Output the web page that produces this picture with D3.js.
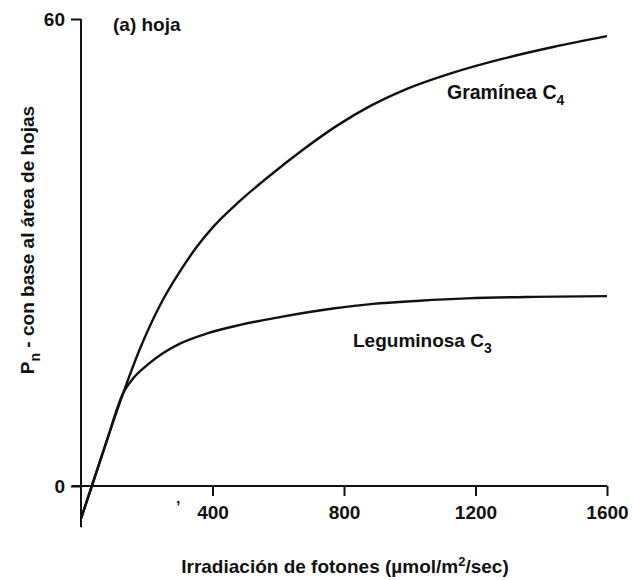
<!DOCTYPE html>
<html>
<head>
<meta charset="utf-8">
<script src="https://cdn.jsdelivr.net/npm/d3@7"></script>
<style>
  body { margin: 0; background: #fff; }
  text { font-family: "Liberation Sans", Arial, sans-serif; font-weight: bold; fill: #111; }
</style>
</head>
<body>
<div id="chart"></div>
<script>
// irradiance (µmol/m2/sec) and Pn
const c4X = [0, 33, 79, 128, 179, 240, 300, 350, 400, 480, 575, 675, 779, 879, 979, 1132, 1284, 1436, 1600];
const c4Y = [-4.2, 0, 5.9, 11.9, 17.6, 23.2, 27.5, 30.6, 33.2, 36.5, 39.9, 43.2, 46.3, 48.8, 50.8, 53.1, 54.9, 56.4, 57.8];
const c3X = [0, 33, 79, 128, 160, 200, 250, 301, 383, 484, 605, 767, 888, 1030, 1174, 1375, 1600];
const c3Y = [-4.2, 0, 5.9, 11.9, 13.9, 15.5, 17.1, 18.3, 19.6, 20.7, 21.7, 22.8, 23.4, 23.8, 24.1, 24.3, 24.4];
const xTicks = [400, 800, 1200, 1600];
const yTicks = [0, 60];

const width = 632, height = 580;

const svg = d3.select('#chart').append('svg')
    .attr('width', width)
    .attr('height', height);

const x = d3.scaleLinear().domain([0, 1600]).range([81, 607]);
const y = d3.scaleLinear().domain([0, 60]).range([486, 19]);

// axes
const xAxis = svg.append('g')
    .attr('transform', 'translate(0,' + y(0) + ')')
    .call(d3.axisBottom(x).tickValues(xTicks).tickFormat(d3.format('d'))
        .tickSize(10).tickPadding(10).tickSizeOuter(0));
xAxis.select('.domain').remove();
xAxis.append('line')
    .attr('x1', x(0) - 9).attr('x2', x(1600))
    .attr('stroke', '#111').attr('stroke-width', 2);
xAxis.selectAll('.tick line').attr('stroke', '#111').attr('stroke-width', 2);
xAxis.selectAll('.tick text')
    .attr('font-size', 19)
    .attr('font-family', '"Liberation Sans", Arial, sans-serif')
    .attr('fill', '#111');

const yAxis = svg.append('g')
    .attr('transform', 'translate(' + x(0) + ',0)')
    .call(d3.axisLeft(y).tickValues(yTicks).tickSize(10).tickPadding(6).tickSizeOuter(0));
yAxis.select('.domain').remove();
yAxis.append('line')
    .attr('y1', y(60)).attr('y2', y(-5.3))
    .attr('stroke', '#111').attr('stroke-width', 2);
yAxis.selectAll('.tick line').attr('stroke', '#111').attr('stroke-width', 2);
yAxis.selectAll('.tick text')
    .attr('font-size', 19)
    .attr('font-family', '"Liberation Sans", Arial, sans-serif')
    .attr('fill', '#111');

// curves
const line = d3.line()
    .x(d => x(d[0]))
    .y(d => y(d[1]))
    .curve(d3.curveMonotoneX);

svg.append('path')
    .datum(d3.zip(c4X, c4Y))
    .attr('d', line)
    .attr('fill', 'none')
    .attr('stroke', '#111')
    .attr('stroke-width', 2.4);

svg.append('path')
    .datum(d3.zip(c3X, c3Y))
    .attr('d', line)
    .attr('fill', 'none')
    .attr('stroke', '#111')
    .attr('stroke-width', 2.4);

// labels
svg.append('text')
    .attr('x', 113).attr('y', 31)
    .attr('font-size', 19)
    .text('(a) hoja');

const g4 = svg.append('text')
    .attr('x', 447).attr('y', 99)
    .attr('font-size', 19.5);
g4.append('tspan').text('Gramínea C');
g4.append('tspan').attr('dy', 6).attr('font-size', 14).text('4');

const l3 = svg.append('text')
    .attr('x', 353).attr('y', 347)
    .attr('font-size', 19);
l3.append('tspan').text('Leguminosa C');
l3.append('tspan').attr('dy', 6).attr('font-size', 14).text('3');

// stray mark from the original print
svg.append('text')
    .attr('x', 176).attr('y', 513)
    .attr('font-size', 16)
    .text('’');

// axis titles
const xt = svg.append('text')
    .attr('x', 345).attr('y', 573)
    .attr('text-anchor', 'middle')
    .attr('font-size', 19);
xt.append('tspan').text('Irradiación de fotones (µmol/m');
xt.append('tspan').attr('dy', -7).attr('font-size', 13).text('2');
xt.append('tspan').attr('dy', 7).text('/sec)');

const yt = svg.append('text')
    .attr('transform', 'translate(34,240) rotate(-90)')
    .attr('text-anchor', 'middle')
    .attr('font-size', 19);
yt.append('tspan').text('P');
yt.append('tspan').attr('dy', 6).attr('font-size', 14).text('n');
yt.append('tspan').attr('dy', -6).text(' - con base al área de hojas');
</script>
</body>
</html>
